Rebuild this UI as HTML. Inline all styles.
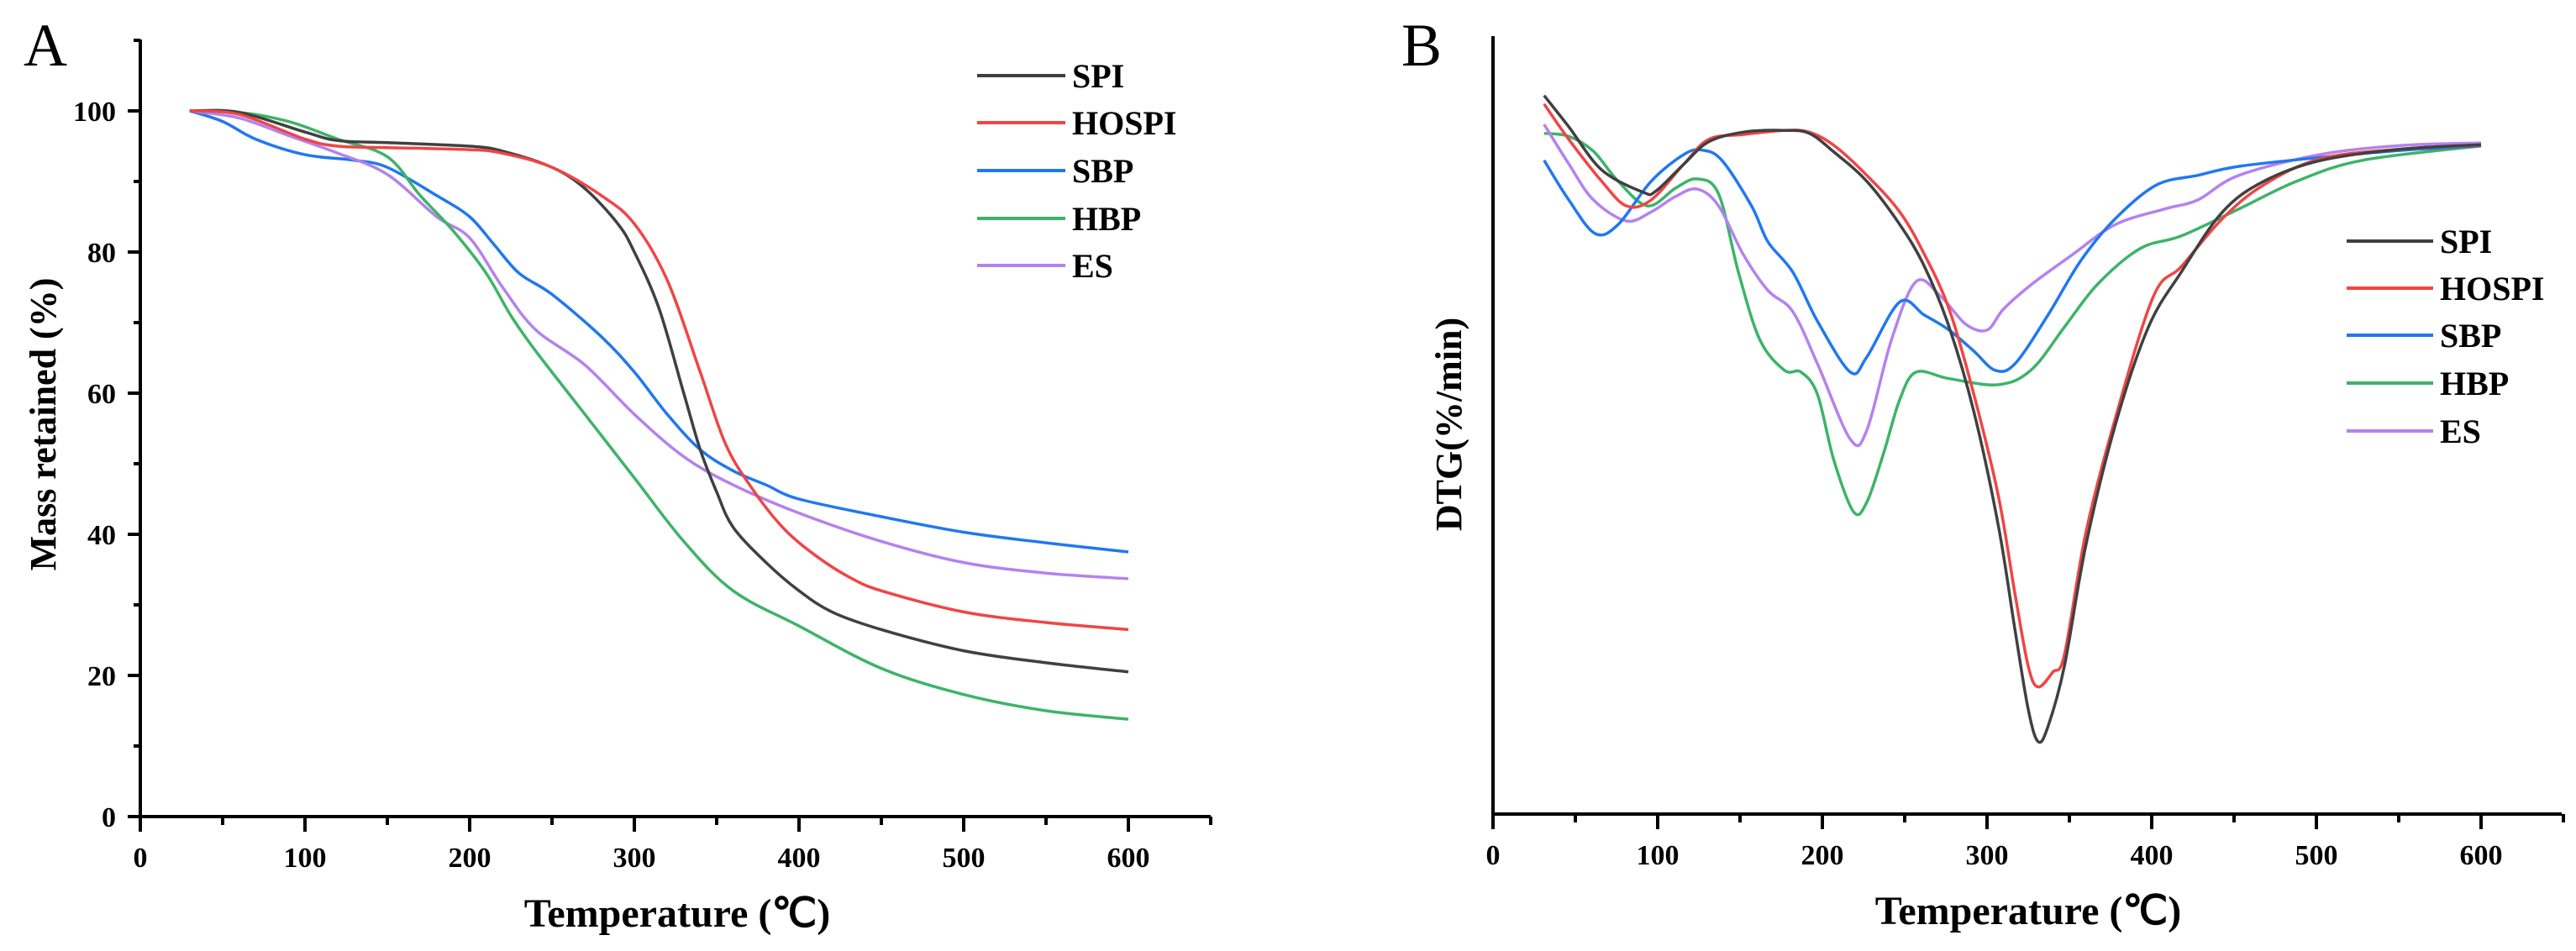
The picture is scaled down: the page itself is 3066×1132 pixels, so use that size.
<!DOCTYPE html>
<html><head><meta charset="utf-8">
<style>
html,body{margin:0;padding:0;background:#fff;}
svg{display:block;font-family:"Liberation Serif",serif;font-weight:bold;}
</style></head>
<body>
<svg id="fig" width="3066" height="1132" viewBox="0 0 3066 1132" xmlns="http://www.w3.org/2000/svg">
<rect width="3066" height="1132" fill="#fff"/>
<text x="28" y="78" font-size="72" font-weight="normal">A</text>
<text x="1668" y="78" font-size="72" font-weight="normal">B</text>
<g id="gA"></g>
<g id="gB"></g>
</svg>
<script>
// ---- data ----
const seriesNames = ["SPI","HOSPI","SBP","HBP","ES"];
const seriesColors = ["#404040","#f04545","#2078f0","#3cb468","#b482ee"];
// Panel A: TGA mass retained (%)
const tgaSPI_T = [30,60,100,120,150,200,220,250,270,290,300,315,330,340,350,360,380,400,420,450,500,550,600];
const tgaSPI_M = [100,99.8,97,95.8,95.5,95,94.3,92,89,84,80,72,60,52,46,41,36,32,29,26.5,23.5,21.8,20.5];
const tgaHOSPI_T = [30,60,100,120,150,200,220,250,280,300,320,340,355,370,390,410,430,450,500,550,600];
const tgaHOSPI_M = [100,99.5,96,95,94.8,94.5,94,92,88,84,76,63,53,47,41,37,34,32,29,27.5,26.5];
const tgaSBP_T = [30,50,70,100,130,150,180,200,215,230,250,280,300,320,340,360,380,400,450,500,550,600];
const tgaSBP_M = [100,98.5,96,93.8,93,92,88,85,81,77,74,68,63,57,52,49,47,45,42.5,40.3,38.8,37.5];
const tgaHBP_T = [30,60,90,120,150,170,190,210,225,240,270,300,330,360,400,450,500,550,600];
const tgaHBP_M = [100,99.8,98.5,96,93.5,88,83,77,71,66,57,48,39,32,27,21,17.3,15,13.8];
const tgaES_T = [30,60,90,120,150,180,200,220,240,270,300,330,360,400,450,500,550,600];
const tgaES_M = [100,99,96.5,94,91,85,82,75,69,64,57,51,47,43,39,36,34.5,33.7];
// Panel B: DTG (%/min, arbitrary scale)
const dtgSPI_T = [31,46,66,91,99,116,131,152,177,192,207,227,247,262,277,292,307,317,325,331,337,347,360,378,398,418,443,468,503,553,600];
const dtgSPI_V = [0.83,0.31,-0.41,-0.78,-0.76,-0.31,0.06,0.22,0.25,0.20,-0.11,-0.60,-1.32,-2.02,-3.03,-4.44,-6.36,-8.08,-9.40,-9.94,-9.69,-8.68,-6.67,-4.65,-3.03,-2.11,-1.11,-0.60,-0.25,-0.06,0.01];
const dtgHOSPI_T = [31,46,66,81,96,116,131,152,177,192,207,227,247,262,277,292,307,317,325,331,340,347,360,378,401,418,443,468,503,553,600];
const dtgHOSPI_V = [0.69,0.10,-0.60,-1.01,-0.91,-0.31,0.10,0.18,0.25,0.22,0,-0.50,-1.11,-1.82,-2.73,-4.15,-5.86,-7.48,-8.68,-9.03,-8.78,-8.49,-6.46,-4.54,-2.52,-2.02,-1.22,-0.66,-0.22,-0.06,0];
const dtgSBP_T = [31,46,62,76,96,116,127,139,157,167,182,197,217,227,247,262,277,292,305,317,337,357,378,403,428,453,503,553,600];
const dtgSBP_V = [-0.25,-0.91,-1.47,-1.32,-0.60,-0.15,-0.08,-0.25,-1.01,-1.61,-2.11,-2.93,-3.78,-3.53,-2.61,-2.83,-3.08,-3.43,-3.75,-3.64,-2.83,-1.92,-1.22,-0.66,-0.50,-0.35,-0.20,-0.08,-0.01];
const dtgHBP_T = [31,46,61,76,94,111,124,137,149,162,177,187,197,207,219,227,237,247,257,277,307,327,347,367,393,418,453,488,528,600];
const dtgHBP_V = [0.20,0.15,-0.10,-0.60,-1.01,-0.71,-0.56,-0.81,-2.11,-3.24,-3.75,-3.78,-4.15,-5.25,-6.11,-5.95,-5.15,-4.24,-3.78,-3.89,-3.99,-3.74,-3.03,-2.32,-1.72,-1.51,-1.06,-0.60,-0.25,-0.01];
const dtgES_T = [31,46,61,81,96,111,124,137,152,167,182,197,217,227,242,257,272,287,300,310,327,352,378,408,428,453,503,553,600];
const dtgES_V = [0.35,-0.31,-0.91,-1.26,-1.11,-0.85,-0.73,-1.01,-1.82,-2.42,-2.77,-3.64,-4.90,-4.75,-3.24,-2.27,-2.52,-2.98,-3.08,-2.73,-2.32,-1.82,-1.32,-1.06,-0.91,-0.50,-0.15,0,0.04];
const xTicks = [0,100,200,300,400,500,600];
const yTicksA = [0,20,40,60,80,100];

const NS="http://www.w3.org/2000/svg";
function mk(tag,attrs,parent){const e=document.createElementNS(NS,tag);for(const k in attrs)e.setAttribute(k,attrs[k]);parent.appendChild(e);return e;}
function smooth(pts){
  let d="M"+pts[0][0].toFixed(1)+","+pts[0][1].toFixed(1);
  for(let i=0;i<pts.length-1;i++){
    const p0=pts[Math.max(0,i-1)],p1=pts[i],p2=pts[i+1],p3=pts[Math.min(pts.length-1,i+2)];
    const c1=[p1[0]+(p2[0]-p0[0])/6,p1[1]+(p2[1]-p0[1])/6];
    const c2=[p2[0]-(p3[0]-p1[0])/6,p2[1]-(p3[1]-p1[1])/6];
    d+=" C"+c1[0].toFixed(1)+","+c1[1].toFixed(1)+" "+c2[0].toFixed(1)+","+c2[1].toFixed(1)+" "+p2[0].toFixed(1)+","+p2[1].toFixed(1);
  }
  return d;
}

// axis functions
const xA=t=>167+t*1.96, yA=m=>972-m*8.40;
const xB=t=>1777+t*1.96, yB=v=>173-v*71.4;

function drawXAxis(g,xf,y0,x0,xEnd){
  const ax=mk("line",{x1:x0-2,y1:y0,x2:xEnd,y2:y0,stroke:"#000","stroke-width":4},g);
  
  
  for(let t=0;t<=650;t+=50){
    const major=t%100===0;
    const tk=mk("line",{x1:xf(t),y1:y0,x2:xf(t),y2:y0+(major?18:10),stroke:"#000","stroke-width":4},g);
    
    
  }
  xTicks.forEach(t=>{
    const tl=mk("text",{x:xf(t),y:y0+60,"font-size":34,"text-anchor":"middle"},g);
    tl.textContent=t;
    
    
  });
}

// ---- Panel A ----
const gA=document.getElementById("gA");
const ya=mk("line",{x1:167,y1:47,x2:167,y2:974,stroke:"#000","stroke-width":4},gA);


for(let m=0;m<=110;m+=10){
  const major=m%20===0;
  const tk=mk("line",{x1:167,y1:yA(m),x2:167-(major?15:8),y2:yA(m),stroke:"#000","stroke-width":4},gA);
  
  
}
yTicksA.forEach(m=>{
  const tl=mk("text",{x:138,y:yA(m)+12,"font-size":34,"text-anchor":"end"},gA);
  tl.textContent=m;
  
  
});
drawXAxis(gA,xA,972,167,1441);
const yTitleA=mk("text",{x:0,y:0,"font-size":44,"text-anchor":"middle",transform:"translate(66,505) rotate(-90)"},gA);
yTitleA.textContent="Mass retained (%)";


const xTitleA=mk("text",{x:806,y:1103,"font-size":48,"text-anchor":"middle"},gA);
xTitleA.textContent="Temperature (℃)";



const tgaT=[tgaSPI_T,tgaHOSPI_T,tgaSBP_T,tgaHBP_T,tgaES_T];
const tgaM=[tgaSPI_M,tgaHOSPI_M,tgaSBP_M,tgaHBP_M,tgaES_M];
[2,4,3,0,1].forEach(i=>{
  const pts=tgaT[i].map((t,j)=>[xA(t),yA(tgaM[i][j])]);
  const p=mk("path",{d:smooth(pts),fill:"none",stroke:seriesColors[i],"stroke-width":3.5},gA);
  
  
});
function legend(g,lx1,lx2,tx,rows){
  seriesNames.forEach((n,i)=>{
    const ln=mk("line",{x1:lx1,y1:rows[i],x2:lx2,y2:rows[i],stroke:seriesColors[i],"stroke-width":4},g);
    
    
    const tx1=mk("text",{x:tx,y:rows[i]+14,"font-size":40},g);
    tx1.textContent=n;
    
    
  });
}
legend(gA,1163,1268,1276,[90,146,203,260,316]);

// ---- Panel B ----
const gB=document.getElementById("gB");
const yb=mk("line",{x1:1777,y1:43,x2:1777,y2:971,stroke:"#000","stroke-width":4},gB);


drawXAxis(gB,xB,969,1777,3049);
const yTitleB=mk("text",{x:0,y:0,"font-size":44,"text-anchor":"middle",transform:"translate(1739,505) rotate(-90)"},gB);
yTitleB.textContent="DTG(%/min)";


const xTitleB=mk("text",{x:2414,y:1100,"font-size":48,"text-anchor":"middle"},gB);
xTitleB.textContent="Temperature (℃)";



const dtgT=[dtgSPI_T,dtgHOSPI_T,dtgSBP_T,dtgHBP_T,dtgES_T];
const dtgV=[dtgSPI_V,dtgHOSPI_V,dtgSBP_V,dtgHBP_V,dtgES_V];
[3,4,2,1,0].forEach(i=>{
  const pts=dtgT[i].map((t,j)=>[xB(t),yB(dtgV[i][j])]);
  const p=mk("path",{d:smooth(pts),fill:"none",stroke:seriesColors[i],"stroke-width":3.5},gB);
  
  
});
legend(gB,2793,2896,2904,[287,343,399,456,513]);
</script>
</body></html>
